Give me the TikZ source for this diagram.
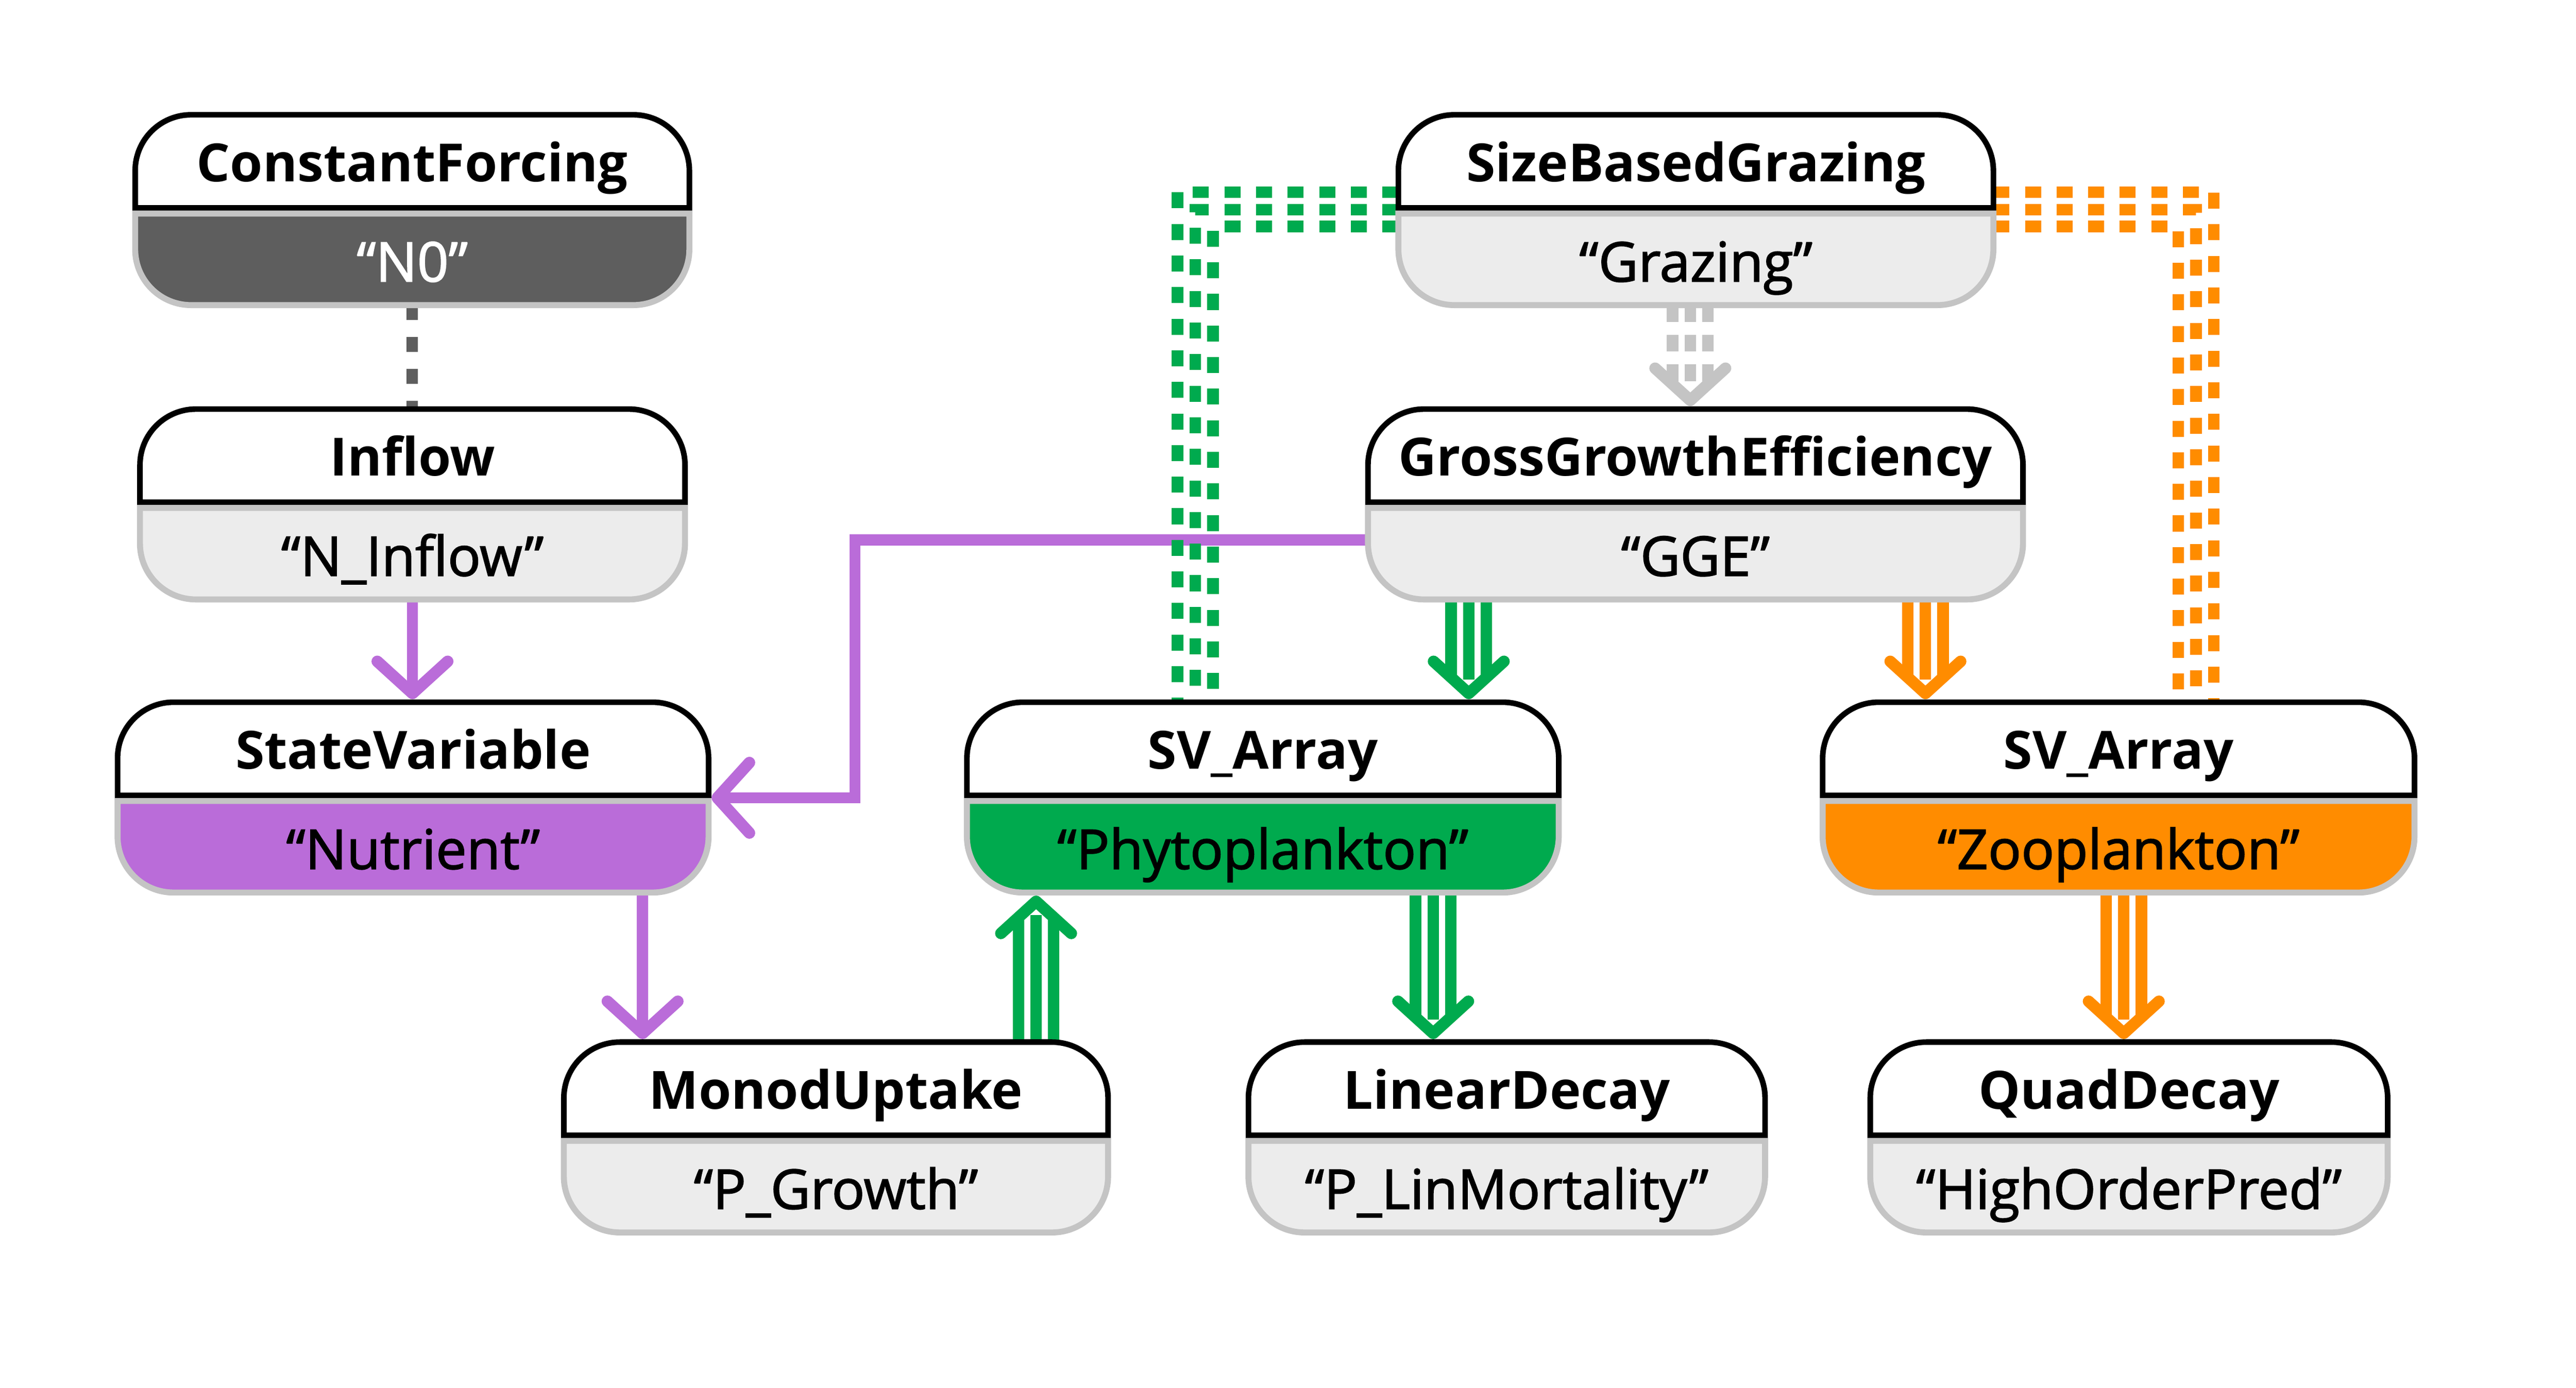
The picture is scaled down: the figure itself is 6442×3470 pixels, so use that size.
\documentclass[tikz,border=0pt]{standalone}
\usepackage{fontspec}
\setmainfont{Open Sans}
\newfontfamily\bodyfont[FakeBold=1.8]{Open Sans}
\usetikzlibrary{calc,fit}
\definecolor{cpurple}{RGB}{186,108,217}
\definecolor{cgreen}{RGB}{0,170,78}
\definecolor{corange}{RGB}{255,140,0}
\definecolor{cdark}{RGB}{94,94,94}
\definecolor{clight}{RGB}{236,236,236}
\definecolor{cborder}{RGB}{196,196,196}
\tikzset{
  hdr/.style={fill=white, draw=black, line width=1.4mm},
  bdy/.style={draw=cborder, line width=1.5mm},
  titletext/.style={font=\fontsize{37.5}{40}\selectfont\bfseries, anchor=base, inner sep=0pt},
  subtext/.style={font=\bodyfont\fontsize{39}{42}\selectfont, anchor=base, inner sep=0pt},
  area/.style={inner sep=0pt, outer sep=0pt},
  pline/.style={cpurple, line width=2.8mm},
  dsh/.style={line width=2.9mm, dash pattern=on 4mm off 3.9mm},
  chevstyle/.style={line width=2.9mm, line cap=round, line join=round},
}
\newcommand\drawbox[5]{%
  \filldraw[hdr] ($(#1.north west)+(0,233)$) -- ($(#1.north west)+(0,140)$)
     arc[start angle=180,end angle=270,radius=140] -- ($(#1.north east)+(-140,0)$)
     arc[start angle=270,end angle=360,radius=140] -- ($(#1.north east)+(0,233)$) -- cycle;
  \filldraw[bdy, fill=#2] ($(#1.north west)+(0,247)$) -- ($(#1.south west)+(0,-140)$)
     arc[start angle=180,end angle=90,radius=140] -- ($(#1.south east)+(-140,0)$)
     arc[start angle=90,end angle=0,radius=140] -- ($(#1.north east)+(0,247)$) -- cycle;
  \node[titletext] (#1-t) at ($(#1.north)+(0,167)$) {#4};
  \node[subtext, text=#3] (#1-s) at ($(#1.north)+(0,417)$) {#5};
}
\newcommand\chev[3]{%
  \draw[#1, chevstyle] ($(#2)!11.9mm!47.7:(#3)$) -- (#2) -- ($(#2)!11.9mm!-47.7:(#3)$);
}
\newcommand\parrow[2]{%
  \coordinate (pS) at (#1); \coordinate (pE) at (#2);
  \coordinate (pT) at ($(pE)!2.2mm!(pS)$);
  \draw[pline] (pS) -- (pT);
  \chev{cpurple}{pT}{pS}
}
\newcommand\triarrow[3]{%
  \coordinate (tS) at (#2); \coordinate (tE) at (#3);
  \coordinate (tT) at ($(tE)!2.2mm!(tS)$);
  \coordinate (tL) at ($(tT)!3.4mm!(tS)$);
  \draw[#1, line width=11.7mm] (tS) -- (tL);
  \draw[white, line width=5.9mm] (tS) -- (tL);
  \draw[#1, line width=2.9mm] (tS) -- (tL);
  \chev{#1}{tT}{tS}
}
\newcommand\tridash[3]{%
  \coordinate (tS) at (#2); \coordinate (tE) at (#3);
  \coordinate (tT) at ($(tE)!2.2mm!(tS)$);
  \coordinate (tL) at ($(tT)!3.4mm!(tS)$);
  \draw[#1, line width=11.7mm, dash pattern=on 4.2mm off 3.2mm] (tS) -- (tL);
  \draw[white, line width=5.9mm] (tS) -- (tL);
  \draw[#1, line width=2.9mm, dash pattern=on 4.2mm off 3.2mm] (tS) -- (tL);
  \chev{#1}{tT}{tS}
}
\begin{document}
\begin{tikzpicture}[x=0.1mm,y=-0.1mm]
\fill[white] (0,0) rectangle (6442,3470);
\useasboundingbox (0,0) rectangle (6442,3470);

% node areas
\node[area, fit={(338,287)(1724,763)}] (cf) {};
\node[area, fit={(3497,287)(4985,763)}] (sbg) {};
\node[area, fit={(350,1023)(1713,1499)}] (inflow) {};
\node[area, fit={(3421,1023)(5059,1499)}] (gge) {};
\node[area, fit={(294,1756)(1772,2232)}] (sv) {};
\node[area, fit={(2418,1756)(3898,2232)}] (phyto) {};
\node[area, fit={(4558,1756)(6038,2232)}] (zoo) {};
\node[area, fit={(1410,2606)(2771,3082)}] (monod) {};
\node[area, fit={(3122,2606)(4414,3082)}] (linear) {};
\node[area, fit={(4677,2606)(5971,3082)}] (quad) {};

% helper coordinates
\coordinate (xA) at (1607,0);
\coordinate (xB) at (2591,0);
\coordinate (xC) at (3584,0);
\coordinate (xD) at (3673,0);
\coordinate (xE) at (4815,0);
\coordinate (xF) at (5311,0);
\coordinate (xG) at (4227,0);
\coordinate (p1) at (2138,1350);
\coordinate (p2) at (2138,1995);
\coordinate (g1) at (2944.5,480.5);
\coordinate (g2) at (2989,524.5);
\coordinate (g3) at (3033.5,566.5);
\coordinate (o1) at (5536.5,480.5);
\coordinate (o2) at (5492,524.5);
\coordinate (o3) at (5447.5,566.5);

% connectors
\draw[cdark, line width=2.9mm, dash pattern=on 3.7mm off 4.3mm] (cf.south) -- (cf.south |- inflow.north);
\parrow{inflow.south}{inflow.south |- sv.north}
\parrow{xA |- sv.south}{xA |- monod.north}
\coordinate (qE) at (sv.east |- p2);
\coordinate (qT) at ($(qE)!2.2mm!(p2)$);
\draw[pline] (gge.west |- p1) -- (p1) -- (p2) -- (qT);
\chev{cpurple}{qT}{p2}

\draw[cgreen, dsh] (sbg.west |- g1) -- (g1) -- (g1 |- phyto.north);
\draw[cgreen, dsh] (sbg.west |- g2) -- (g2) -- (g2 |- phyto.north);
\draw[cgreen, dsh] (sbg.west |- g3) -- (g3) -- (g3 |- phyto.north);
\draw[corange, dsh] (sbg.east |- o1) -- (o1) -- (o1 |- zoo.north);
\draw[corange, dsh] (sbg.east |- o2) -- (o2) -- (o2 |- zoo.north);
\draw[corange, dsh] (sbg.east |- o3) -- (o3) -- (o3 |- zoo.north);

\tridash{cborder}{xG |- sbg.south}{xG |- gge.north}
\triarrow{cgreen}{xD |- gge.south}{xD |- phyto.north}
\triarrow{corange}{xE |- gge.south}{xE |- zoo.north}
\triarrow{cgreen}{xB |- monod.north}{xB |- phyto.south}
\triarrow{cgreen}{xC |- phyto.south}{xC |- linear.north}
\triarrow{corange}{xF |- zoo.south}{xF |- quad.north}

% boxes
\drawbox{cf}{cdark}{white}{ConstantForcing}{“N0”}
\drawbox{sbg}{clight}{black}{SizeBasedGrazing}{“Grazing”}
\drawbox{inflow}{clight}{black}{Inflow}{“N\_Inflow”}
\drawbox{gge}{clight}{black}{GrossGrowthEfficiency}{“GGE”}
\drawbox{sv}{cpurple}{black}{StateVariable}{“Nutrient”}
\drawbox{phyto}{cgreen}{black}{SV\_Array}{“Phytoplankton”}
\drawbox{zoo}{corange}{black}{SV\_Array}{“Zooplankton”}
\drawbox{monod}{clight}{black}{MonodUptake}{“P\_Growth”}
\drawbox{linear}{clight}{black}{LinearDecay}{“P\_LinMortality”}
\drawbox{quad}{clight}{black}{QuadDecay}{“HighOrderPred”}
\end{tikzpicture}
\end{document}
